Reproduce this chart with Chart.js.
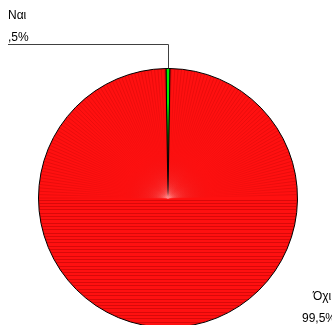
<!DOCTYPE html>
<html>
<head>
<meta charset="utf-8">
<script src="https://cdn.jsdelivr.net/npm/chart.js@4"></script>
<style>
  html, body { margin: 0; padding: 0; background: #fff; overflow: hidden; }
  #wrap { width: 332px; height: 325px; overflow: hidden; }
</style>
</head>
<body>
<div id="wrap"><canvas id="pie" width="332" height="340"></canvas></div>
<script>
var categories = ['Ναι', 'Όχι'];
var percents = [0.5, 99.5];
var colors = ['#00ee00', '#ff1010'];

// SPSS style: comma decimal, no leading zero
function fmt(v) {
    var s = v.toFixed(1).replace('.', ',');
    if (s.indexOf('0,') === 0) s = s.substring(1);
    return s + '%';
}

var font = '12px "Liberation Sans", Arial, sans-serif';

// faint striping of the red slice, like the original export
var texture = {
    id: 'texture',
    afterDatasetsDraw: function(chart) {
        var arc = chart.getDatasetMeta(0).data[1];
        var ctx = chart.ctx;
        var cx = arc.x, cy = arc.y, r = arc.outerRadius;
        ctx.save();
        ctx.beginPath();
        ctx.moveTo(cx, cy);
        ctx.arc(cx, cy, r - 0.5, arc.startAngle, arc.endAngle);
        ctx.closePath();
        ctx.clip();
        ctx.lineWidth = 1;
        var g = ctx.createRadialGradient(cx, cy, 0, cx, cy, r);
        g.addColorStop(0, 'rgba(255,140,140,0.15)');
        g.addColorStop(0.35, 'rgba(170,0,0,0.05)');
        g.addColorStop(1, 'rgba(170,0,0,0.3)');
        ctx.strokeStyle = g;
        for (var a = 0; a < 180; a += 1.5) {
            var t = Math.PI + a * Math.PI / 180;
            ctx.beginPath();
            ctx.moveTo(cx, cy);
            ctx.lineTo(cx + Math.cos(t) * r, cy + Math.sin(t) * r);
            ctx.stroke();
        }
        ctx.strokeStyle = 'rgba(160,0,0,0.4)';
        for (var y = cy + 1.5; y < cy + r; y += 3.3) {
            ctx.beginPath();
            ctx.moveTo(cx - r, Math.round(y) + 0.5);
            ctx.lineTo(cx + r, Math.round(y) + 0.5);
            ctx.stroke();
        }
        ctx.restore();
    }
};

var labels = {
    id: 'labels',
    afterDraw: function(chart) {
        var ctx = chart.ctx;
        var arcs = chart.getDatasetMeta(0).data;
        ctx.save();
        ctx.font = font;
        ctx.fillStyle = '#000';
        ctx.textBaseline = 'alphabetic';

        // Ναι, top left with leader line
        var a0 = arcs[0];
        var mid = (a0.startAngle + a0.endAngle) / 2;
        var px = a0.x + Math.cos(mid) * a0.outerRadius;
        var py = a0.y + Math.sin(mid) * a0.outerRadius;
        ctx.textAlign = 'left';
        ctx.fillText(categories[0], 8, 19);
        ctx.fillText(fmt(percents[0]), 8, 41);
        ctx.strokeStyle = '#404040';
        ctx.lineWidth = 1;
        ctx.beginPath();
        ctx.moveTo(8, 44.5);
        ctx.lineTo(Math.round(px) + 0.5, 44.5);
        ctx.lineTo(Math.round(px) + 0.5, py);
        ctx.stroke();

        // Όχι, bottom right
        ctx.fillText(categories[1], 313, 300);
        ctx.fillText(fmt(percents[1]), 302, 322);
        ctx.restore();
    }
};

new Chart(document.getElementById('pie'), {
    type: 'pie',
    data: {
        labels: categories,
        datasets: [{
            data: percents,
            backgroundColor: colors,
            borderColor: '#000',
            borderWidth: 1
        }]
    },
    options: {
        responsive: false,
        animation: false,
        rotation: -0.9,
        layout: { padding: { left: 38, right: 34, top: 68, bottom: 12 } },
        plugins: {
            legend: { display: false },
            tooltip: { enabled: false }
        }
    },
    plugins: [texture, labels]
});
</script>
</body>
</html>
